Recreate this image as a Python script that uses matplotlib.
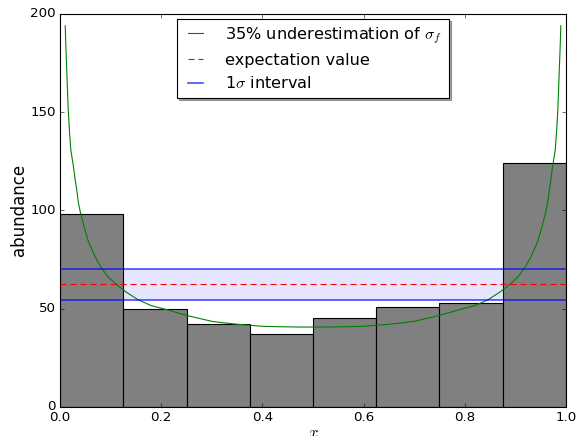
import numpy as np
import matplotlib
matplotlib.use('Agg')
import matplotlib.pyplot as plt

plt.style.use('classic')
plt.rcParams['font.size'] = 12

# histogram counts, 8 equal bins on [0, 1]
bin_edges = [0.0, 0.125, 0.25, 0.375, 0.5, 0.625, 0.75, 0.875, 1.0]
counts = [98, 50, 42, 37, 45, 51, 53, 124]

# green curve (left half, mirrored for the right)
curve_x_half = [0.010, 0.0115, 0.013, 0.0145, 0.016, 0.0185, 0.021, 0.024, 0.027,
                0.030, 0.033, 0.036, 0.040, 0.044, 0.048, 0.052, 0.056, 0.062,
                0.068, 0.075, 0.082, 0.095, 0.108, 0.120, 0.130, 0.142, 0.154,
                0.167, 0.180, 0.195, 0.210, 0.230, 0.250, 0.275, 0.300, 0.325,
                0.350, 0.375, 0.400, 0.425, 0.450, 0.475, 0.500]
curve_y_half = [194, 182, 172, 161, 151, 140, 131, 126, 121,
                115, 110, 104, 99, 95, 91, 87.5, 84, 80.5,
                77, 73.5, 70.5, 66, 63, 60.5, 58.5, 56.5, 54.5,
                53, 51.5, 50.5, 49.5, 48, 46.5, 45, 43.5, 42.7,
                42, 41.5, 41, 40.8, 40.7, 40.6, 40.6]

expectation = 62.5
sigma_low = 54.6
sigma_high = 70.4

curve_x = curve_x_half + [1 - v for v in curve_x_half[-2::-1]]
curve_y = curve_y_half + curve_y_half[-2::-1]

fig = plt.figure(figsize=(584 / 80, 436 / 80), dpi=80)
ax = fig.add_axes([0.103, 0.067, 0.866, 0.901])

widths = np.diff(bin_edges)
ax.bar(bin_edges[:-1], counts, width=widths, align='edge',
       color='gray', edgecolor='black', zorder=1)

ax.plot(curve_x, curve_y, color='green', label=r'35% underestimation of $\sigma_f$', zorder=3)
ax.axhline(expectation, color='red', linestyle='--', dashes=(5.5, 3.5),
           label='expectation value', zorder=3)
ax.axhspan(sigma_low, sigma_high, color='blue', alpha=0.1, lw=0, zorder=0)
ax.axhline(sigma_low, color='blue', alpha=0.7, lw=1.5, label=r'1$\sigma$ interval', zorder=3)
ax.axhline(sigma_high, color='blue', alpha=0.7, lw=1.5, zorder=3)

ax.set_xlim(0, 1)
ax.set_ylim(0, 200)
ax.set_yticks([0, 50, 100, 150, 200])
ax.tick_params(labelsize=12)
ax.set_xlabel('$x$', fontsize=15, labelpad=0)
ax.set_ylabel('abundance', fontsize=15, labelpad=2)

leg = ax.legend(loc='upper center', shadow=True, fontsize=14.5, handlelength=1.5,
                handletextpad=1.1, borderaxespad=0.3, borderpad=0.4,
                labelspacing=0.45)

fig.savefig('out.png', dpi=80)
